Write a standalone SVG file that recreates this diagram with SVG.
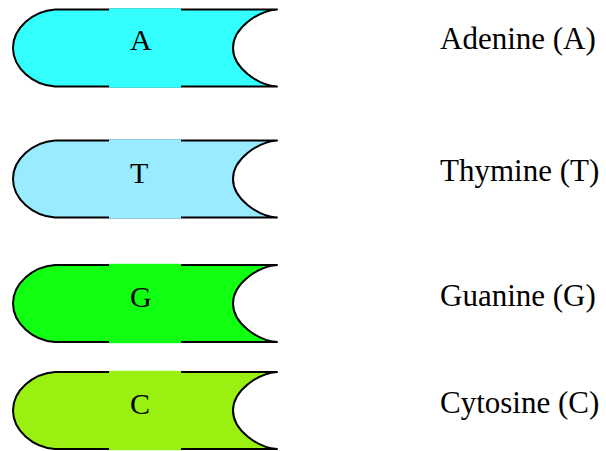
<svg xmlns="http://www.w3.org/2000/svg" width="606" height="451" viewBox="0 0 606 451">
  <defs>
    <!-- nucleotide block: rounded left end, concave notch on the right -->
    <path id="block" d="M55 0 H277 C258 1.5 233 18.5 233 38.5 C233 58.5 258 75.5 277 77 H55 C33 75.5 13 58.5 13 38.5 C13 18.5 33 1.5 55 0 Z"/>
  </defs>
  <style>
    .shape { stroke: #000; stroke-width: 2; stroke-linejoin: round; }
    .letter { font-family: "Liberation Serif", "Times New Roman", serif; font-size: 30px; fill: #000; }
    .name { font-family: "Liberation Serif", "Times New Roman", serif; font-size: 31px; fill: #000; }
  </style>
  <rect width="606" height="451" fill="#fff"/>

  <!-- each block's label sits on a plain patch that hides the outline behind it -->
  <g id="node-adenine" transform="translate(0,9.5)">
    <use href="#block" class="shape" fill="#33FFFF"/>
    <rect x="109" y="-1.2" width="72" height="79.4" fill="#33FFFF"/>
    <text class="letter" x="130" y="40.5">A</text>
  </g>
  <g id="node-thymine" transform="translate(0,140.5)">
    <use href="#block" class="shape" fill="#99EBFF"/>
    <rect x="109" y="-1.2" width="72" height="79.4" fill="#99EBFF"/>
    <text class="letter" x="130" y="42">T</text>
  </g>
  <g id="node-guanine" transform="translate(0,265)">
    <use href="#block" class="shape" fill="#11FF11"/>
    <rect x="109" y="-1.2" width="72" height="79.4" fill="#11FF11"/>
    <text class="letter" x="130" y="41.5">G</text>
  </g>
  <g id="node-cytosine" transform="translate(0,372)">
    <use href="#block" class="shape" fill="#99F011"/>
    <rect x="109" y="-1.2" width="72" height="79.4" fill="#99F011"/>
    <text class="letter" x="130" y="42">C</text>
  </g>

  <g id="legend">
    <text class="name" x="440" y="49">Adenine (A)</text>
    <text class="name" x="440" y="181">Thymine (T)</text>
    <text class="name" x="440" y="306">Guanine (G)</text>
    <text class="name" x="440" y="413">Cytosine (C)</text>
  </g>

  <!-- no connectors in this diagram -->
  <g id="connectors"/>
</svg>
